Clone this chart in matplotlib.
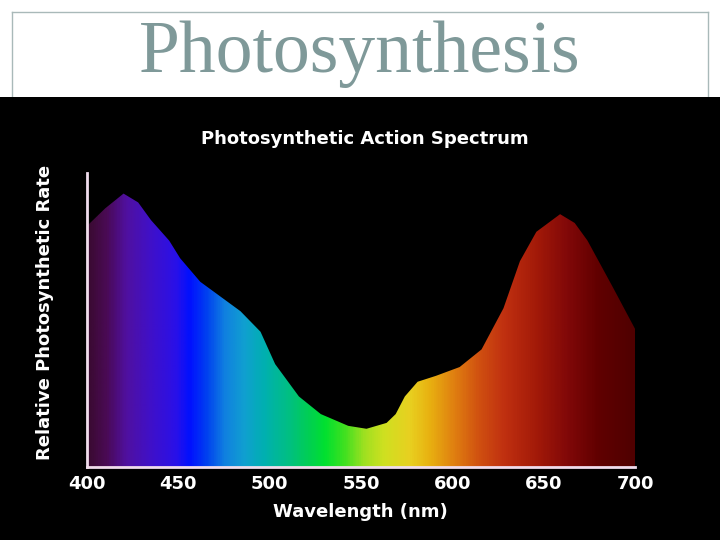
import numpy as np
import matplotlib.pyplot as plt
from matplotlib.colors import LinearSegmentedColormap
from matplotlib.lines import Line2D
from matplotlib.patches import Rectangle

# action spectrum
wavelength = [400, 410, 420, 428, 435, 445, 451, 462, 473, 484, 495, 503, 516, 528, 543,
              553, 564, 569, 574, 581, 591, 604, 616, 628, 637, 646, 659, 667, 674, 688, 700]
rate = [0.82, 0.88, 0.93, 0.90, 0.84, 0.77, 0.71, 0.63, 0.58, 0.53, 0.46, 0.35, 0.24, 0.18, 0.14,
        0.13, 0.15, 0.18, 0.24, 0.29, 0.31, 0.34, 0.40, 0.54, 0.70, 0.80, 0.86, 0.83, 0.77, 0.61, 0.47]
xticks = [400, 450, 500, 550, 600, 650, 700]

# spectrum colour stops (wavelength, colour)
spec_wl = [400, 410, 421, 434, 448, 456, 465, 475, 486, 497, 511, 522, 530, 541, 552,
           563, 577, 588, 601, 615, 629, 648, 664, 681, 700]
spec_col = ['#3a0a30', '#4a0a55', '#5010a0', '#4010c8', '#2a10e8', '#0010ff', '#0040f0',
            '#1080e0', '#10a0d0', '#00b0b0', '#00c080', '#00d050', '#00e030', '#40e020',
            '#a0e020', '#d0e020', '#e8d020', '#e8b010', '#e08010', '#d05010', '#c03010',
            '#a01808', '#800808', '#600000', '#500000']

fig = plt.figure(figsize=(7.2, 5.4), dpi=100)
fig.patch.set_facecolor('white')

# slide title and frame
fig.text(0.5, 1 - 72 / 540, 'Photosynthesis', family='Liberation Serif', fontsize=53,
         color='#7f9999', ha='center', va='baseline', zorder=1)
frame = '#a9b9b9'
fig.add_artist(Line2D([12 / 720, 708 / 720], [1 - 12 / 540, 1 - 12 / 540], color=frame, lw=1))
fig.add_artist(Line2D([12 / 720, 12 / 720], [1 - 12 / 540, 1 - 97 / 540], color=frame, lw=1))
fig.add_artist(Line2D([708 / 720, 708 / 720], [1 - 12 / 540, 1 - 97 / 540], color=frame, lw=1))

# black picture area
fig.add_artist(Rectangle((0, 0), 1, 1 - 97 / 540, transform=fig.transFigure,
                         facecolor='black', edgecolor='none', zorder=2))

ax = fig.add_axes([87 / 720, 1 - 467 / 540, 548 / 720, 294 / 540], zorder=3)
ax.set_facecolor('black')
ax.patch.set_alpha(0)

pos = [(w - 400) / 300 for w in spec_wl]
cmap = LinearSegmentedColormap.from_list('spec', list(zip(pos, spec_col)))
grad = np.linspace(0, 1, 600).reshape(1, -1)
im = ax.imshow(grad, cmap=cmap, extent=[400, 700, 0, 1], aspect='auto', interpolation='bilinear')
poly = ax.fill(list(wavelength) + [700, 400], list(rate) + [0, 0],
               facecolor='none', edgecolor='none')[0]
im.set_clip_path(poly)

ax.set_xlim(400, 700)
ax.set_ylim(0, 1)
ax.set_xticks(xticks)
ax.set_xticklabels([str(t) for t in xticks], color='white', fontsize=13, fontweight='bold')
ax.set_yticks([])
ax.tick_params(axis='x', length=0, pad=6)
for s in ['top', 'right']:
    ax.spines[s].set_visible(False)
for s in ['left', 'bottom']:
    ax.spines[s].set_color('#f0dcec')
    ax.spines[s].set_linewidth(2)

fig.text(365 / 720, 1 - 139 / 540, 'Photosynthetic Action Spectrum', color='white',
         fontsize=13, fontweight='bold', ha='center', va='center', zorder=4)
fig.text(45 / 720, 1 - 312 / 540, 'Relative Photosynthetic Rate', color='white',
         fontsize=13, fontweight='bold', rotation=90, ha='center', va='center', zorder=4)
fig.text(360 / 720, 1 - 512 / 540, 'Wavelength (nm)', color='white',
         fontsize=13, fontweight='bold', ha='center', va='center', zorder=4)

fig.savefig('out.png', dpi=100, facecolor=fig.get_facecolor())
